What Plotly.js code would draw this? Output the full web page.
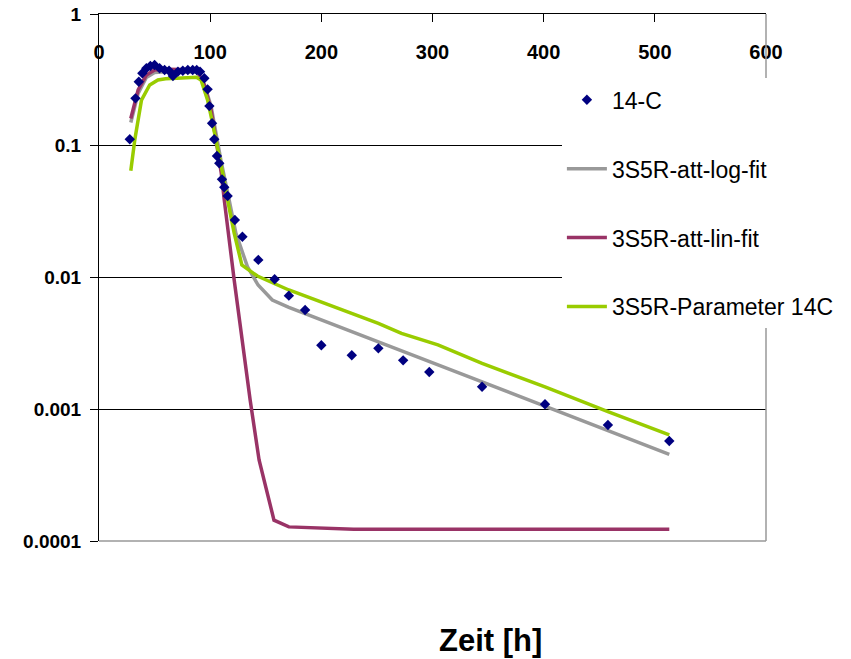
<!DOCTYPE html>
<html>
<head>
<meta charset="utf-8">
<script src="https://cdn.plot.ly/plotly-3.0.1.min.js"></script>
<style>html,body{margin:0;padding:0;background:#fff;}#chart{width:851px;height:659px;}</style>
</head>
<body>
<div id="chart"></div>
<script>
// Measured 14-C values
var obsX = [27.7, 32.8, 35.8, 39, 42.6, 46.2, 50, 54.5, 59, 63, 66.5, 71, 75.4, 79.9, 84.3, 87.9, 90.9, 94.8, 97.7, 99.3, 101.7, 103.7, 106.1, 108.2, 110.6, 112.7, 115.7, 122.2, 129, 143.3, 158, 170.8, 185.4, 200, 227.4, 251.3, 273.6, 297.1, 344.6, 401.2, 457.8, 513];
var obsY = [0.112, 0.229, 0.306, 0.355, 0.387, 0.403, 0.41, 0.387, 0.376, 0.371, 0.338, 0.365, 0.371, 0.376, 0.376, 0.376, 0.365, 0.325, 0.268, 0.200, 0.148, 0.112, 0.0836, 0.0736, 0.0556, 0.0484, 0.0416, 0.0273, 0.0204, 0.0136, 0.00969, 0.00728, 0.00567, 0.00306, 0.00257, 0.00290, 0.00235, 0.00192, 0.00148, 0.00109, 0.000759, 0.000574];

// 3S5R-att-log-fit
var logX = [28.6, 35.2, 42.6, 50, 60, 70, 80, 88, 94.8, 100.8, 105.2, 110, 117.1, 123.1, 133.5, 143.1, 155.9, 170.8, 251.3, 304.9, 401.2, 513];
var logY = [0.15, 0.25, 0.33, 0.36, 0.365, 0.365, 0.365, 0.363, 0.29, 0.2, 0.125, 0.075, 0.0387, 0.0217, 0.0121, 0.00877, 0.00675, 0.00594, 0.00325, 0.00217, 0.00105, 0.000455];

// 3S5R-att-lin-fit
var linX = [28.6, 35.2, 42.6, 50, 60, 70, 80, 88, 94.8, 100.8, 105.2, 110, 112.7, 121.6, 136, 144, 157.4, 170.8, 229, 300, 400, 513];
var linY = [0.161, 0.265, 0.344, 0.376, 0.38, 0.38, 0.38, 0.378, 0.289, 0.187, 0.111, 0.0619, 0.0387, 0.00957, 0.00117, 0.000412, 0.000144, 0.000128, 0.000123, 0.000123, 0.000123, 0.000123];

// 3S5R-Parameter 14C
var parX = [28.6, 32.2, 38.2, 45.6, 53, 60, 70, 80, 87.4, 91.8, 97.7, 102.2, 106.7, 111.2, 115.7, 121.6, 128.5, 142.5, 170.8, 251.3, 272.1, 304.9, 344.6, 401.2, 457.8, 513];
var parY = [0.0647, 0.111, 0.222, 0.289, 0.316, 0.322, 0.325, 0.328, 0.331, 0.316, 0.222, 0.148, 0.0987, 0.0619, 0.0387, 0.0217, 0.01245, 0.01026, 0.00804, 0.00449, 0.00377, 0.00308, 0.00223, 0.00148, 0.000959, 0.000638];

var xTicks = [0, 100, 200, 300, 400, 500, 600];
var yTicks = [0.0001, 0.001, 0.01, 0.1, 1];
var yTickText = ["0.0001", "0.001", "0.01", "0.1", "1"];

var FONT = "Liberation Sans, Arial, sans-serif";

var data = [
  {x: logX, y: logY, mode: "lines", name: "3S5R-att-log-fit", legendgroup: "b", legendrank: 2,
   line: {color: "#999999", width: 3.5}},
  {x: linX, y: linY, mode: "lines", name: "3S5R-att-lin-fit", legendgroup: "c", legendrank: 3,
   line: {color: "#993366", width: 3.5}},
  {x: parX, y: parY, mode: "lines", name: "3S5R-Parameter 14C", legendgroup: "d", legendrank: 4,
   line: {color: "#99CC00", width: 3.5}},
  {x: obsX, y: obsY, mode: "markers", name: "14-C", legendgroup: "a", legendrank: 1,
   marker: {symbol: "diamond", size: 8, color: "#000080"}}
];

var layout = {
  width: 851, height: 659,
  margin: {l: 99, r: 81, t: 14, b: 118},
  paper_bgcolor: "#ffffff", plot_bgcolor: "#ffffff",
  font: {family: FONT, color: "#000000"},
  showlegend: true,
  xaxis: {
    range: [0, 600], side: "top", tickvals: xTicks,
    ticks: "inside", ticklen: 8, tickcolor: "#000000",
    showline: true, linecolor: "#000000", linewidth: 1,
    showgrid: false, zeroline: false,
    ticklabelposition: "inside", ticklabelstandoff: 24, ticklabeloverflow: "allow",
    tickfont: {family: FONT, size: 20, color: "#000000", weight: "bold"}
  },
  yaxis: {
    type: "log", range: [-4, 0], tickvals: yTicks, ticktext: yTickText,
    ticks: "outside", ticklen: 8, tickcolor: "#000000",
    showline: true, linecolor: "#000000", linewidth: 1,
    showgrid: true, gridcolor: "#000000", gridwidth: 1, zeroline: false,
    ticklabelstandoff: 5, ticklabeloverflow: "allow",
    tickfont: {family: FONT, size: 19, color: "#000000", weight: "bold"}
  },
  legend: {
    x: 0.694, y: 0.878, xanchor: "left", yanchor: "top",
    bgcolor: "#ffffff", borderwidth: 0,
    font: {family: FONT, size: 23, color: "#000000"},
    tracegroupgap: 36, itemwidth: 40
  },
  shapes: [
    {type: "line", xref: "paper", yref: "paper", x0: 0, x1: 1, y0: 0, y1: 0, line: {color: "#999999", width: 1.5}},
    {type: "line", xref: "paper", yref: "paper", x0: 1, x1: 1, y0: 0, y1: 1, line: {color: "#999999", width: 1.5}}
  ],
  annotations: [
    {text: "Zeit [h]", xref: "paper", yref: "paper", x: 0.587, y: -0.188,
     xanchor: "center", yanchor: "middle", showarrow: false,
     font: {family: FONT, size: 31, color: "#000000", weight: "bold"}}
  ]
};

Plotly.newPlot("chart", data, layout, {displayModeBar: false, staticPlot: true});
</script>
</body>
</html>
